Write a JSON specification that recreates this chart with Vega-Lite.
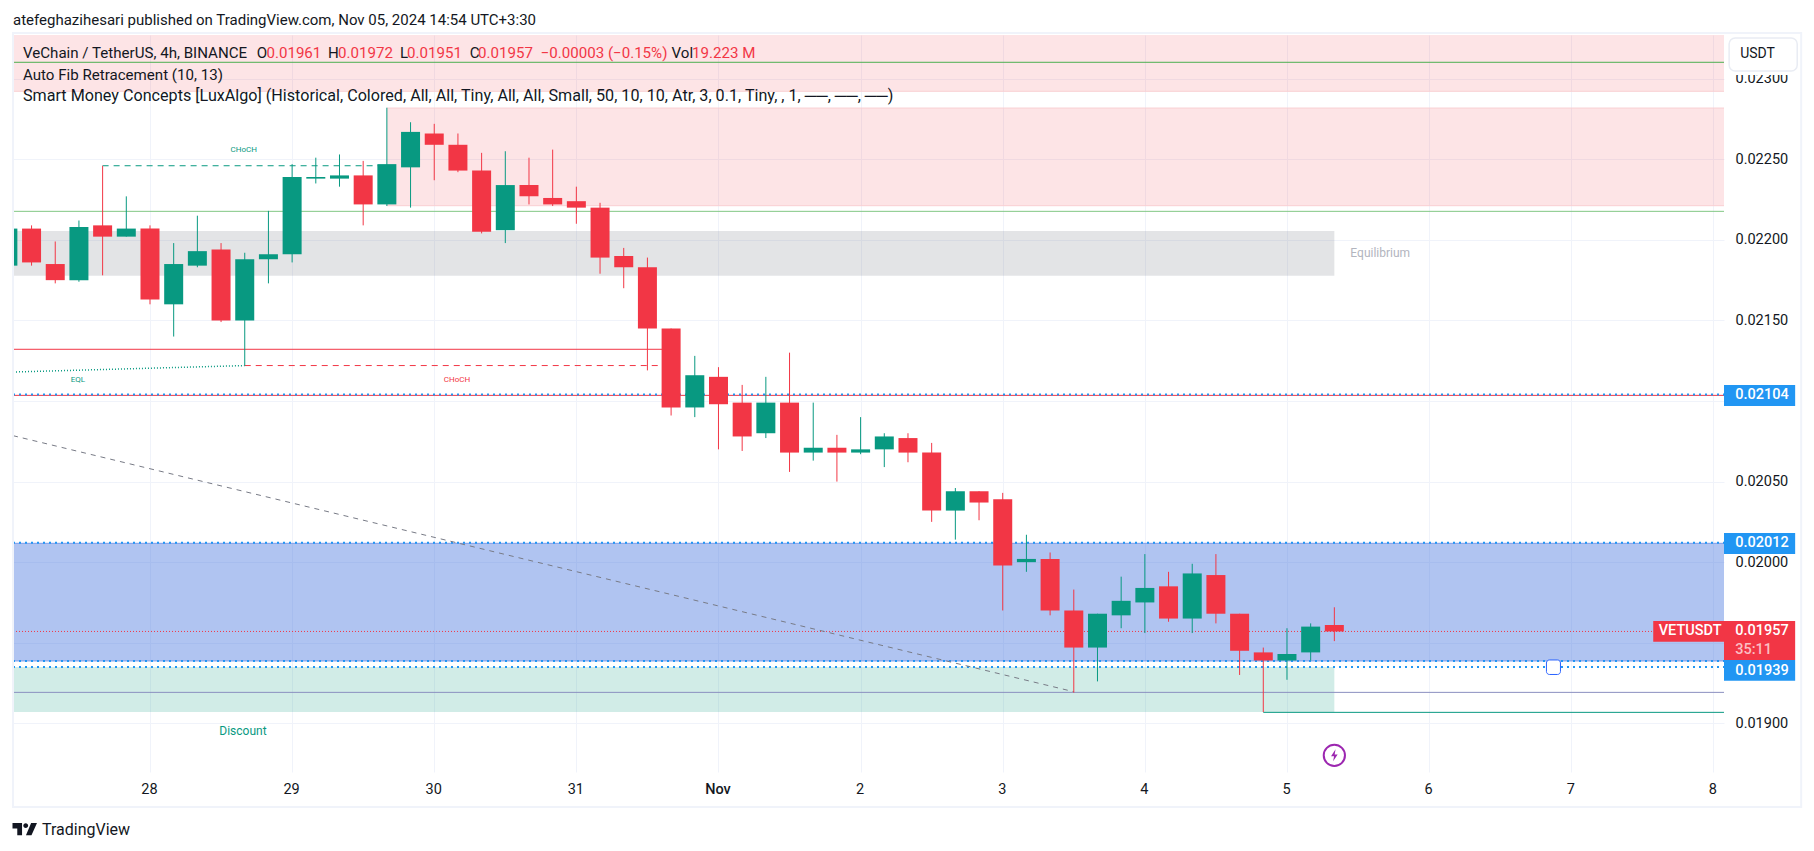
{"$schema":"https://vega.github.io/schema/vega-lite/v6.json","width":1711,"height":737,"autosize":"none","padding":{"left":13,"top":35,"right":90,"bottom":79},"background":"white","config":{"view":{"stroke":null},"font":"Roboto"},
"datasets":{
"candles":[
{"t":"2024-10-27T00:00:00Z","o":0.02184,"h":0.02207,"l":0.02184,"c":0.02207},
{"t":"2024-10-27T04:00:00Z","o":0.02207,"h":0.02209,"l":0.02184,"c":0.02186},
{"t":"2024-10-27T08:00:00Z","o":0.02185,"h":0.02199,"l":0.02173,"c":0.02175},
{"t":"2024-10-27T12:00:00Z","o":0.02175,"h":0.02212,"l":0.02174,"c":0.02208},
{"t":"2024-10-27T16:00:00Z","o":0.02209,"h":0.02246,"l":0.02178,"c":0.02202},
{"t":"2024-10-27T20:00:00Z","o":0.02202,"h":0.02227,"l":0.02202,"c":0.02207},
{"t":"2024-10-28T00:00:00Z","o":0.02207,"h":0.02209,"l":0.0216,"c":0.02163},
{"t":"2024-10-28T04:00:00Z","o":0.0216,"h":0.02198,"l":0.0214,"c":0.02185},
{"t":"2024-10-28T08:00:00Z","o":0.02184,"h":0.02215,"l":0.02183,"c":0.02193},
{"t":"2024-10-28T12:00:00Z","o":0.02194,"h":0.02198,"l":0.02149,"c":0.0215},
{"t":"2024-10-28T16:00:00Z","o":0.0215,"h":0.02192,"l":0.02122,"c":0.02188},
{"t":"2024-10-28T20:00:00Z","o":0.02188,"h":0.02218,"l":0.02173,"c":0.02191},
{"t":"2024-10-29T00:00:00Z","o":0.02191,"h":0.02247,"l":0.02186,"c":0.02239},
{"t":"2024-10-29T04:00:00Z","o":0.02238,"h":0.02251,"l":0.02235,"c":0.02239},
{"t":"2024-10-29T08:00:00Z","o":0.02238,"h":0.02253,"l":0.02233,"c":0.0224},
{"t":"2024-10-29T12:00:00Z","o":0.0224,"h":0.02249,"l":0.02209,"c":0.02222},
{"t":"2024-10-29T16:00:00Z","o":0.02222,"h":0.02282,"l":0.02221,"c":0.02247},
{"t":"2024-10-29T20:00:00Z","o":0.02245,"h":0.02273,"l":0.0222,"c":0.02267},
{"t":"2024-10-30T00:00:00Z","o":0.02266,"h":0.02272,"l":0.02237,"c":0.02259},
{"t":"2024-10-30T04:00:00Z","o":0.02259,"h":0.02266,"l":0.02242,"c":0.02243},
{"t":"2024-10-30T08:00:00Z","o":0.02243,"h":0.02254,"l":0.02204,"c":0.02205},
{"t":"2024-10-30T12:00:00Z","o":0.02206,"h":0.02255,"l":0.02198,"c":0.02234},
{"t":"2024-10-30T16:00:00Z","o":0.02234,"h":0.02251,"l":0.02222,"c":0.02227},
{"t":"2024-10-30T20:00:00Z","o":0.02226,"h":0.02256,"l":0.02221,"c":0.02222},
{"t":"2024-10-31T00:00:00Z","o":0.02224,"h":0.02233,"l":0.0221,"c":0.0222},
{"t":"2024-10-31T04:00:00Z","o":0.0222,"h":0.02223,"l":0.02179,"c":0.02189},
{"t":"2024-10-31T08:00:00Z","o":0.0219,"h":0.02195,"l":0.0217,"c":0.02183},
{"t":"2024-10-31T12:00:00Z","o":0.02183,"h":0.02189,"l":0.02119,"c":0.02145},
{"t":"2024-10-31T16:00:00Z","o":0.02145,"h":0.02145,"l":0.02091,"c":0.02096},
{"t":"2024-10-31T20:00:00Z","o":0.02096,"h":0.02128,"l":0.0209,"c":0.02116},
{"t":"2024-11-01T00:00:00Z","o":0.02115,"h":0.02121,"l":0.0207,"c":0.02098},
{"t":"2024-11-01T04:00:00Z","o":0.02099,"h":0.0211,"l":0.02069,"c":0.02078},
{"t":"2024-11-01T08:00:00Z","o":0.0208,"h":0.02115,"l":0.02077,"c":0.02099},
{"t":"2024-11-01T12:00:00Z","o":0.02099,"h":0.0213,"l":0.02056,"c":0.02068},
{"t":"2024-11-01T16:00:00Z","o":0.02068,"h":0.02099,"l":0.02063,"c":0.02071},
{"t":"2024-11-01T20:00:00Z","o":0.02071,"h":0.02079,"l":0.0205,"c":0.02068},
{"t":"2024-11-02T00:00:00Z","o":0.02068,"h":0.0209,"l":0.02067,"c":0.0207},
{"t":"2024-11-02T04:00:00Z","o":0.0207,"h":0.0208,"l":0.02059,"c":0.02078},
{"t":"2024-11-02T08:00:00Z","o":0.02077,"h":0.0208,"l":0.02062,"c":0.02068},
{"t":"2024-11-02T12:00:00Z","o":0.02068,"h":0.02074,"l":0.02025,"c":0.02032},
{"t":"2024-11-02T16:00:00Z","o":0.02032,"h":0.02046,"l":0.02014,"c":0.02044},
{"t":"2024-11-02T20:00:00Z","o":0.02044,"h":0.02044,"l":0.02026,"c":0.02037},
{"t":"2024-11-03T00:00:00Z","o":0.02039,"h":0.02043,"l":0.0197,"c":0.01998},
{"t":"2024-11-03T04:00:00Z","o":0.02,"h":0.02017,"l":0.01994,"c":0.02002},
{"t":"2024-11-03T08:00:00Z","o":0.02002,"h":0.02006,"l":0.01967,"c":0.0197},
{"t":"2024-11-03T12:00:00Z","o":0.0197,"h":0.01983,"l":0.01919,"c":0.01947},
{"t":"2024-11-03T16:00:00Z","o":0.01947,"h":0.01968,"l":0.01926,"c":0.01968},
{"t":"2024-11-03T20:00:00Z","o":0.01967,"h":0.01991,"l":0.01959,"c":0.01976},
{"t":"2024-11-04T00:00:00Z","o":0.01975,"h":0.02005,"l":0.01956,"c":0.01984},
{"t":"2024-11-04T04:00:00Z","o":0.01985,"h":0.01994,"l":0.01963,"c":0.01965},
{"t":"2024-11-04T08:00:00Z","o":0.01965,"h":0.01999,"l":0.01956,"c":0.01993},
{"t":"2024-11-04T12:00:00Z","o":0.01992,"h":0.02005,"l":0.01962,"c":0.01968},
{"t":"2024-11-04T16:00:00Z","o":0.01968,"h":0.01968,"l":0.0193,"c":0.01945},
{"t":"2024-11-04T20:00:00Z","o":0.01944,"h":0.01947,"l":0.01907,"c":0.01939},
{"t":"2024-11-05T00:00:00Z","o":0.01939,"h":0.01959,"l":0.01927,"c":0.01943},
{"t":"2024-11-05T04:00:00Z","o":0.01944,"h":0.01962,"l":0.01939,"c":0.0196},
{"t":"2024-11-05T08:00:00Z","o":0.01961,"h":0.01972,"l":0.01951,"c":0.01957}
],
"zones":[
{"t":"2024-10-27T00:52:00Z","t2":"2024-11-08T01:48:00Z","p":0.0232713,"p2":0.022922,"k":"pink"},
{"t":"2024-10-29T16:00:00Z","t2":"2024-11-08T01:48:00Z","p":0.022818,"p2":0.022212,"k":"pink"},
{"t":"2024-10-27T00:52:00Z","t2":"2024-11-05T08:00:00Z","p":0.022055,"p2":0.021778,"k":"grey"},
{"t":"2024-10-27T00:52:00Z","t2":"2024-11-08T01:48:00Z","p":0.020117,"p2":0.019387,"k":"blue"},
{"t":"2024-10-27T00:52:00Z","t2":"2024-11-05T08:00:00Z","p":0.019349,"p2":0.01907,"k":"green"}
],
"solid":[
{"t":"2024-10-27T00:52:00Z","t2":"2024-11-08T01:48:00Z","p":0.022922,"k":"pinkedge"},
{"t":"2024-10-29T16:00:00Z","t2":"2024-11-08T01:48:00Z","p":0.022818,"k":"pinkedge"},
{"t":"2024-10-29T16:00:00Z","t2":"2024-11-08T01:48:00Z","p":0.022212,"k":"pinkedge"},
{"t":"2024-10-27T00:52:00Z","t2":"2024-11-08T01:48:00Z","p":0.023102,"k":"green1"},
{"t":"2024-10-27T00:52:00Z","t2":"2024-11-08T01:48:00Z","p":0.022177,"k":"green2"},
{"t":"2024-10-27T00:52:00Z","t2":"2024-10-31T16:00:00Z","p":0.021321,"k":"red"},
{"t":"2024-10-27T00:52:00Z","t2":"2024-11-08T01:48:00Z","p":0.021035,"k":"red"},
{"t":"2024-10-27T00:52:00Z","t2":"2024-11-08T01:48:00Z","p":0.019192,"k":"purple"},
{"t":"2024-11-04T20:00:00Z","t2":"2024-11-08T01:48:00Z","p":0.019068,"k":"teal"},
{"t":"2024-10-27T00:52:00Z","t2":"2024-11-08T01:48:00Z","p":0.019387,"k":"blueedge"},
{"t":"2024-10-27T00:52:00Z","t2":"2024-11-08T01:48:00Z","p":0.020117,"k":"blueedge"}
],
"dashed":[
{"t":"2024-10-27T16:00:00Z","t2":"2024-10-29T16:00:00Z","p":0.02246,"k":"teal"},
{"t":"2024-10-28T16:00:00Z","t2":"2024-10-31T16:00:00Z","p":0.02122,"k":"red"}
],
"dotted":[
{"t":"2024-10-27T00:52:00Z","t2":"2024-11-08T01:48:00Z","p":0.02104},
{"t":"2024-10-27T00:52:00Z","t2":"2024-11-08T01:48:00Z","p":0.02012},
{"t":"2024-10-27T00:52:00Z","t2":"2024-11-08T01:48:00Z","p":0.019387},
{"t":"2024-10-27T00:52:00Z","t2":"2024-11-08T01:48:00Z","p":0.019349}
],
"diag":[
{"t":"2024-10-27T00:52:00Z","p":0.020785},
{"t":"2024-11-03T12:00:00Z","p":0.019196}
],
"eql":[
{"t":"2024-10-27T00:52:00Z","p":0.02118},
{"t":"2024-10-28T16:00:00Z","p":0.02122}
],
"last":[{"t":"2024-10-27T00:52:00Z","t2":"2024-11-08T01:48:00Z","p":0.01957}],
"boxes":[
{"t":"2024-11-08T01:48:00Z","t2":"2024-11-08T13:49:00Z","p":0.021099,"p2":0.020969,"k":"boxblue"},
{"t":"2024-11-08T01:48:00Z","t2":"2024-11-08T13:49:00Z","p":0.020181,"p2":0.02005,"k":"boxblue"},
{"t":"2024-11-08T01:48:00Z","t2":"2024-11-08T13:49:00Z","p":0.019635,"p2":0.019393,"k":"red"},
{"t":"2024-11-07T13:51:00Z","t2":"2024-11-08T01:48:00Z","p":0.019635,"p2":0.019506,"k":"red"},
{"t":"2024-11-08T01:48:00Z","t2":"2024-11-08T13:49:00Z","p":0.019393,"p2":0.019264,"k":"boxblue"}
],
"header":[
{"t":"2024-10-27T00:52:00Z","p":0.023364,"s":"atefeghazihesari published on TradingView.com, Nov 05, 2024 14:54 UTC+3:30","k":"dark"}
],
"smart":[
{"t":"2024-10-27T02:33:00Z","p":0.022893,"s":"Smart Money Concepts [LuxAlgo] (Historical, Colored, All, All, Tiny, All, All, Small, 50, 10, 10, Atr, 3, 0.1, Tiny, , 1, ──, ──, ──)","k":"dark"}
],
"legend":[
{"t":"2024-10-27T02:33:00Z","p":0.02316,"s":"VeChain / TetherUS, 4h, BINANCE","k":"dark"},
{"t":"2024-10-28T18:01:00Z","p":0.02316,"s":"O","k":"dark"},
{"t":"2024-10-28T19:40:00Z","p":0.02316,"s":"0.01961","k":"red"},
{"t":"2024-10-29T06:04:00Z","p":0.02316,"s":"H","k":"dark"},
{"t":"2024-10-29T07:45:00Z","p":0.02316,"s":"0.01972","k":"red"},
{"t":"2024-10-29T18:13:00Z","p":0.02316,"s":"L","k":"dark"},
{"t":"2024-10-29T19:24:00Z","p":0.02316,"s":"0.01951","k":"red"},
{"t":"2024-10-30T05:59:00Z","p":0.02316,"s":"C","k":"dark"},
{"t":"2024-10-30T07:24:00Z","p":0.02316,"s":"0.01957","k":"red"},
{"t":"2024-10-30T17:58:00Z","p":0.02316,"s":"−0.00003 (−0.15%)","k":"red"},
{"t":"2024-10-31T16:04:00Z","p":0.02316,"s":"Vol","k":"dark"},
{"t":"2024-10-31T19:32:00Z","p":0.02316,"s":"19.223 M","k":"red"},
{"t":"2024-10-27T02:33:00Z","p":0.023025,"s":"Auto Fib Retracement (10, 13)","k":"dark"}
],
"small":[
{"t":"2024-10-28T15:50:00Z","p":0.022558,"s":"CHoCH","k":"teal"},
{"t":"2024-10-27T11:50:00Z","p":0.02113,"s":"EQL","k":"teal"},
{"t":"2024-10-30T03:51:00Z","p":0.02113,"s":"CHoCH","k":"red"}
],
"zonetext":[
{"t":"2024-10-28T15:42:00Z","p":0.018954,"s":"Discount","k":"teal"},
{"t":"2024-11-05T15:45:00Z","p":0.021919,"s":"Equilibrium","k":"lightgrey"}
],
"boxtext":[
{"t":"2024-11-08T03:42:00Z","p":0.021035,"s":"0.02104","k":"white"},
{"t":"2024-11-08T03:42:00Z","p":0.020116,"s":"0.02012","k":"white"},
{"t":"2024-11-08T03:42:00Z","p":0.01957,"s":"0.01957","k":"white"},
{"t":"2024-11-08T03:42:00Z","p":0.019326,"s":"0.01939","k":"white"},
{"t":"2024-11-07T14:47:00Z","p":0.01957,"s":"VETUSDT","k":"white"},
{"t":"2024-11-08T03:42:00Z","p":0.019455,"s":"35:11","k":"fade"}
],
"buttonback":[{"t":"2024-11-08T01:50:00Z","t2":"2024-11-08T14:40:00Z","p":0.023265,"p2":0.023023}],
"button":[{"t":"2024-11-08T02:40:00Z","t2":"2024-11-08T14:10:00Z","p":0.023253,"p2":0.023048}],
"buttontext":[{"t":"2024-11-08T04:32:00Z","p":0.023154,"s":"USDT","k":"dark"}],
"handle":[{"t":"2024-11-06T19:49:00Z","t2":"2024-11-06T22:11:00Z","p":0.019393,"p2":0.019303}],
"flash":[{"t":"2024-11-05T08:00:00Z","p":0.018801}],
"brand":[{"t":"2024-10-27T05:46:00Z","p":0.018338,"s":"TradingView","k":"dark"}],
"logo":[{"t":"2024-10-27T02:51:00Z","p":0.018344}],
"mask":[{"t":"2024-10-26T22:00:00Z","t2":"2024-10-27T00:42:00Z","p":0.0234,"p2":0.0181}],
"frame":[{"t":"2024-10-27T00:52:00Z","t2":"2024-11-08T14:50:00Z","p":0.023284,"p2":0.01848}]
},
"encoding":{
"x":{"field":"t","type":"temporal","scale":{"type":"utc","padding":0,"domain":["2024-10-27T00:52:00Z","2024-11-08T01:48:00Z"]},"axis":{"title":null,"values":["2024-10-27T00:00:00Z","2024-10-28T00:00:00Z","2024-10-29T00:00:00Z","2024-10-30T00:00:00Z","2024-10-31T00:00:00Z","2024-11-01T00:00:00Z","2024-11-02T00:00:00Z","2024-11-03T00:00:00Z","2024-11-04T00:00:00Z","2024-11-05T00:00:00Z","2024-11-06T00:00:00Z","2024-11-07T00:00:00Z","2024-11-08T00:00:00Z"],"labelExpr":"utcdate(datum.value)==1 ? 'Nov' : ''+utcdate(datum.value)","labelFontWeight":{"expr":"utcdate(datum.value)==1 ? 500 : 400"},"labelFontSize":14.5,"labelColor":"#131722","labelPadding":10,"labelOffset":-1,"ticks":false,"domain":false,"grid":true,"gridColor":"#f0f3fa","gridWidth":1,"labelFlush":false,"labelOverlap":false}},
"y":{"field":"p","type":"quantitative","scale":{"domain":[0.0186978,0.0232713],"nice":false,"zero":false},"axis":{"title":null,"orient":"right","values":[0.019,0.0195,0.02,0.0205,0.021,0.0215,0.022,0.0225,0.023],"format":".5f","labelFontSize":14.5,"labelColor":"#131722","labelPadding":11,"ticks":false,"domain":false,"grid":true,"gridColor":"#f0f3fa","gridWidth":1,"labelOverlap":false}}
},
"layer":[
{"data":{"name":"zones"},"mark":{"type":"rect","opacity":1},"encoding":{"x2":{"field":"t2"},"y2":{"field":"p2"},"color":{"field":"k","type":"nominal","legend":null,"scale":{"domain":["pink","grey","blue","green"],"range":["#f2364522","#787b8635","#396bdc66","#08998130"]}}}},
{"data":{"name":"solid"},"mark":{"type":"rule","strokeWidth":1},"encoding":{"x2":{"field":"t2"},"stroke":{"field":"k","type":"nominal","legend":null,"scale":{"domain":["pinkedge","green1","green2","red","purple","teal","blueedge"],"range":["#f9cfd2","#4caf50","#81c784","#f23645","#8a8fc0","#089981","#7f9be8"]}}}},
{"data":{"name":"dashed"},"mark":{"type":"rule","strokeWidth":1,"strokeDash":[6,5]},"encoding":{"x2":{"field":"t2"},"stroke":{"field":"k","type":"nominal","legend":null}}},
{"data":{"name":"dotted"},"mark":{"type":"rule","strokeWidth":2,"strokeDash":[2,4],"color":"#2196f3"},"encoding":{"x2":{"field":"t2"}}},
{"data":{"name":"last"},"mark":{"type":"rule","strokeWidth":1,"strokeDash":[1,2],"color":"#f23645"},"encoding":{"x2":{"field":"t2"}}},
{"data":{"name":"diag"},"mark":{"type":"line","strokeWidth":1,"strokeDash":[5,5],"color":"#787b86"}},
{"data":{"name":"eql"},"mark":{"type":"line","strokeWidth":1.5,"strokeDash":[1,2],"color":"#089981"}},
{"data":{"name":"candles"},"mark":{"type":"rule","strokeWidth":1,"clip":true},"encoding":{"y":{"field":"l","type":"quantitative"},"y2":{"field":"h"},"stroke":{"condition":{"test":"datum.c>=datum.o","value":"#089981"},"value":"#f23645"}}},
{"data":{"name":"candles"},"mark":{"type":"bar","width":19,"clip":true},"encoding":{"y":{"field":"o","type":"quantitative"},"y2":{"field":"c"},"fill":{"condition":{"test":"datum.c>=datum.o","value":"#089981"},"value":"#f23645"}}},
{"data":{"name":"small"},"mark":{"type":"text","fontSize":8,"align":"center","baseline":"middle"},"encoding":{"text":{"field":"s"},"fill":{"field":"k","type":"nominal","legend":null,"scale":{"domain":["dark","red","teal","lightgrey","white","fade","boxblue"],"range":["#131722","#f23645","#089981","#b2b5be","#ffffff","#ffffffb0","#2196f3"]}}}},
{"data":{"name":"zonetext"},"mark":{"type":"text","fontSize":12,"align":"center","baseline":"middle"},"encoding":{"text":{"field":"s"},"fill":{"field":"k","type":"nominal","legend":null}}},
{"data":{"name":"header"},"mark":{"type":"text","fontSize":15,"align":"left","baseline":"middle"},"encoding":{"text":{"field":"s"},"fill":{"field":"k","type":"nominal","legend":null}}},
{"data":{"name":"smart"},"mark":{"type":"text","fontSize":16.15,"align":"left","baseline":"middle"},"encoding":{"text":{"field":"s"},"fill":{"field":"k","type":"nominal","legend":null}}},
{"data":{"name":"legend"},"mark":{"type":"text","fontSize":15.1,"align":"left","baseline":"middle"},"encoding":{"text":{"field":"s"},"fill":{"field":"k","type":"nominal","legend":null}}},
{"data":{"name":"boxes"},"mark":{"type":"rect"},"encoding":{"x2":{"field":"t2"},"y2":{"field":"p2"},"fill":{"field":"k","type":"nominal","legend":null}}},
{"data":{"name":"boxtext"},"mark":{"type":"text","fontSize":14.5,"fontWeight":500,"align":"left","baseline":"middle"},"encoding":{"text":{"field":"s"},"fill":{"field":"k","type":"nominal","legend":null}}},
{"data":{"name":"buttonback"},"mark":{"type":"rect","fill":"white"},"encoding":{"x2":{"field":"t2"},"y2":{"field":"p2"}}},
{"data":{"name":"button"},"mark":{"type":"rect","fill":"white","stroke":"#e9ecf3","strokeWidth":1.5,"cornerRadius":6},"encoding":{"x2":{"field":"t2"},"y2":{"field":"p2"}}},
{"data":{"name":"buttontext"},"mark":{"type":"text","fontSize":14,"align":"left","baseline":"middle"},"encoding":{"text":{"field":"s"},"fill":{"field":"k","type":"nominal","legend":null}}},
{"data":{"name":"handle"},"mark":{"type":"rect","fill":"white","stroke":"#2962ff","strokeWidth":1,"cornerRadius":3},"encoding":{"x2":{"field":"t2"},"y2":{"field":"p2"}}},
{"data":{"name":"flash"},"mark":{"type":"point","shape":"circle","size":452,"stroke":"#9c27b0","strokeWidth":2,"filled":false,"opacity":1}},
{"data":{"name":"flash"},"mark":{"type":"point","shape":"M0.2,-1 L-0.55,0.15 H-0.05 L-0.2,1 L0.55,-0.15 H0.05 Z","size":144,"filled":true,"fill":"#9c27b0","opacity":1}},
{"data":{"name":"mask"},"mark":{"type":"rect","fill":"white"},"encoding":{"x2":{"field":"t2"},"y2":{"field":"p2"}}},
{"data":{"name":"frame"},"mark":{"type":"rect","fill":null,"fillOpacity":0,"stroke":"#f0f3fa","strokeWidth":2},"encoding":{"x2":{"field":"t2"},"y2":{"field":"p2"}}},
{"data":{"name":"brand"},"mark":{"type":"text","fontSize":16,"align":"left","baseline":"middle"},"encoding":{"text":{"field":"s"},"fill":{"field":"k","type":"nominal","legend":null}}},
{"data":{"name":"logo"},"mark":{"type":"point","shape":"M-1,-0.5 H-0.22 V0.5 H-0.61 V-0.05 H-1 Z M0.28,-0.28 A0.2,0.2 0 1 1 -0.12,-0.28 A0.2,0.2 0 1 1 0.28,-0.28 Z M0.55,0.5 H0.1 L0.52,-0.5 H1 Z","size":600,"filled":true,"fill":"#131722","opacity":1}}
]}
